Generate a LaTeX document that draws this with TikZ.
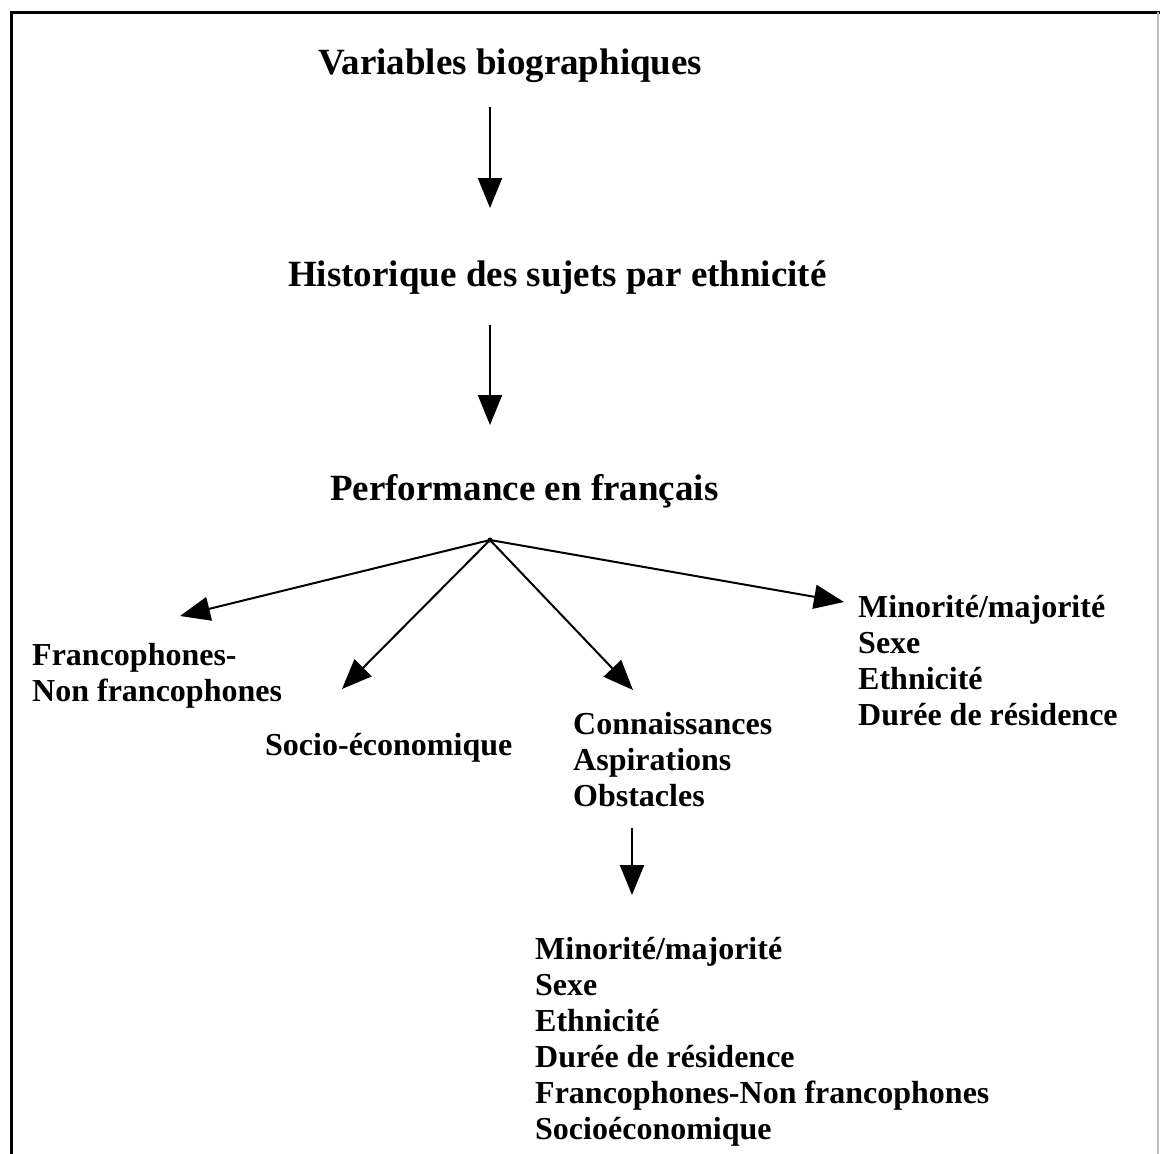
\documentclass[tikz,border=0pt]{standalone}
\usepackage{fontspec}
\setmainfont{Liberation Serif}
\usetikzlibrary{arrows.meta}
\begin{document}
\begin{tikzpicture}[x=1pt,y=-1pt,
  lbl/.style={anchor=base west,inner sep=0pt,align=left,font=\bfseries\fontsize{32}{36}\selectfont},
  ttl/.style={anchor=base west,inner sep=0pt,font=\bfseries\fontsize{37}{40}\selectfont},
  arr/.style={line width=2pt,-{Triangle[length=30pt,width=24pt]}},
  frame/.style={line width=3pt,black}]
\useasboundingbox (0,0) rectangle (1160,1154);
\draw[frame] (11,1154) -- (11,12) -- (1160,12);
\draw[line width=1.5pt,black!25] (1158,12) -- (1158,1154);
% nodes (base anchor = baseline of the last line)
\node[ttl] (bio) at (318,74) {Variables biographiques};
\node[ttl] (hist) at (288,286) {Historique des sujets par ethnicité};
\node[ttl] (perf) at (330,500) {Performance en français};
\node[lbl] (franc) at (32,701) {Francophones-\\Non francophones};
\node[lbl] (socio) at (265,755) {Socio-économique};
\node[lbl] (conn) at (573,806) {Connaissances\\Aspirations\\Obstacles};
\node[lbl] (minr) at (858,725) {Minorité/majorité\\Sexe\\Ethnicité\\Durée de résidence};
\node[lbl] (all) at (535,1139) {Minorité/majorité\\Sexe\\Ethnicité\\Durée de résidence\\Francophones-Non francophones\\Socioéconomique};
% connector points
\coordinate (hub) at (490,540);
\coordinate (a1s) at (490,107); \coordinate (a1e) at (490,208);
\coordinate (a2s) at (490,325); \coordinate (a2e) at (490,425);
\coordinate (a3s) at (632,828); \coordinate (a3e) at (632,895);
\coordinate (tF) at (180,616);
\coordinate (tS) at (342,689);
\coordinate (tC) at (633,690);
\coordinate (tM) at (844,602);
% connectors
\draw[arr] (a1s) -- (a1e);
\draw[arr] (a2s) -- (a2e);
\draw[arr] (a3s) -- (a3e);
\draw[arr] (hub) -- (tF);
\draw[arr] (hub) -- (tS);
\draw[arr] (hub) -- (tC);
\draw[arr] (hub) -- (tM);
\fill (hub) circle (2.5pt);
\end{tikzpicture}
\end{document}
